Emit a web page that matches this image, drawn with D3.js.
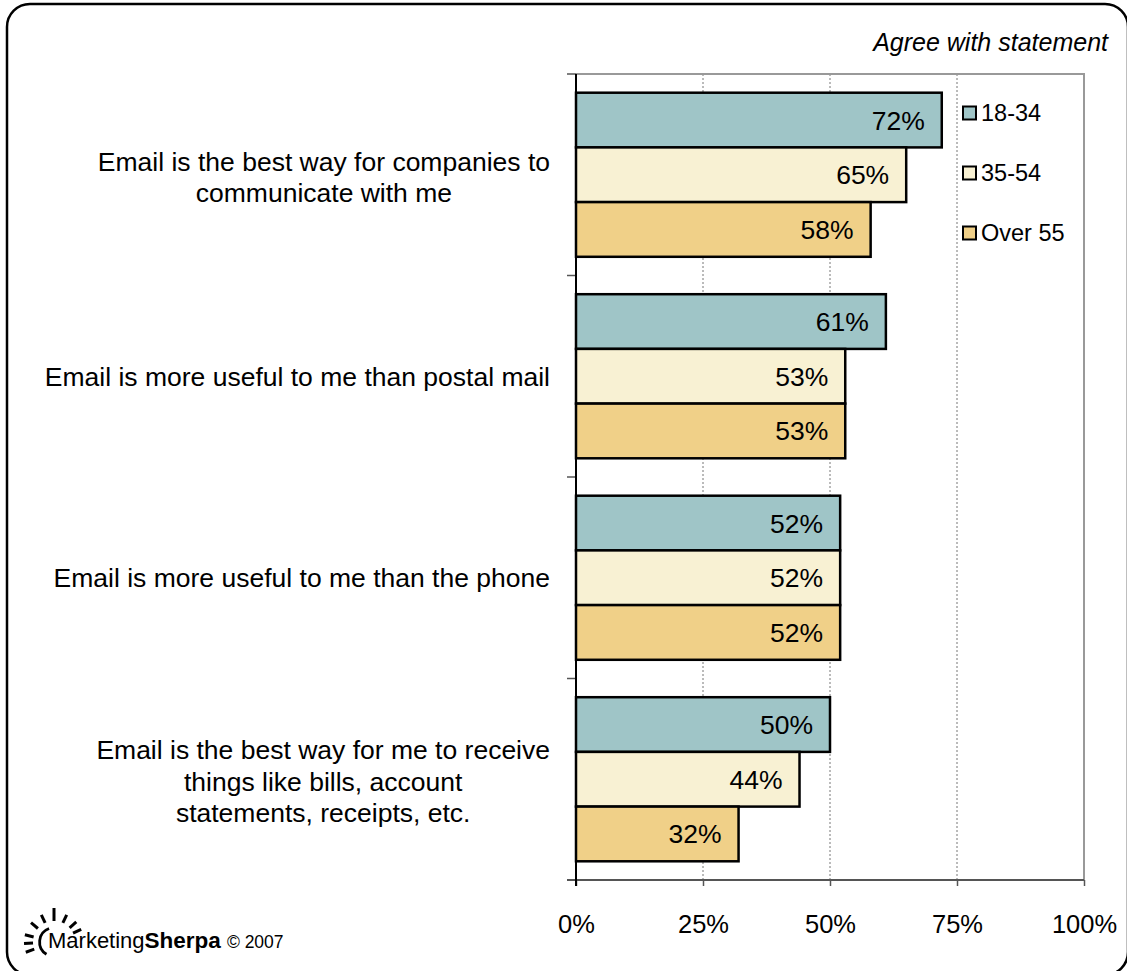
<!DOCTYPE html>
<html>
<head>
<meta charset="utf-8">
<script src="https://cdn.jsdelivr.net/npm/d3@7"></script>
<style>
  html, body { margin: 0; padding: 0; background: #fff; }
  svg { display: block; }
  text { font-family: "Liberation Sans", Arial, sans-serif; fill: #000; }
</style>
</head>
<body>
<svg id="chart" width="1127" height="971"></svg>
<script>
// Survey statements (one per group of bars)
const categories = [
  ["Email is the best way for companies to", "communicate with me"],
  ["Email is more useful to me than postal mail"],
  ["Email is more useful to me than the phone"],
  ["Email is the best way for me to receive", "things like bills, account", "statements, receipts, etc."]
];
// Age groups
const series = ["18-34", "35-54", "Over 55"];
const seriesColors = ["#9fc5c7", "#f8f1d3", "#f0d088"];
// Percent agreeing, per statement, per age group
const values18to34 = [72, 61, 52, 50];
const values35to54 = [65, 53, 52, 44];
const valuesOver55 = [58, 53, 52, 32];
const tickValues = [0, 25, 50, 75, 100];
const tickLabels = ["0%", "25%", "50%", "75%", "100%"];

const seriesValues = [values18to34, values35to54, valuesOver55];
const rows = categories.map((c, i) => ({
  key: i,
  lines: c,
  vals: series.map((s, j) => ({ series: s, idx: j, value: seriesValues[j][i] }))
}));

const svg = d3.select("#chart");
const plot = { left: 576, right: 1084, top: 74, bottom: 880 };

// outer rounded frame
svg.append("rect")
  .attr("x", 7).attr("y", 4).attr("width", 1121).attr("height", 971)
  .attr("rx", 23).attr("ry", 23)
  .attr("fill", "#fff").attr("stroke", "#000").attr("stroke-width", 2.5);

const x = d3.scaleLinear().domain([0, 100]).range([plot.left, plot.right]);
const y0 = d3.scaleBand().domain(rows.map(r => r.key)).range([plot.top, plot.bottom]);
const y1 = d3.scaleBand().domain(d3.range(series.length))
  .range([0, y0.bandwidth()]).paddingInner(0).paddingOuter(0.342);

// gridlines
svg.append("g").selectAll("line")
  .data(tickValues.filter(v => v > 0 && v < 100))
  .join("line")
  .attr("x1", d => x(d)).attr("x2", d => x(d))
  .attr("y1", plot.top).attr("y2", plot.bottom)
  .attr("stroke", "#777").attr("stroke-width", 1).attr("stroke-dasharray", "2,2");

// top and right frame of the plot area
svg.append("path")
  .attr("d", `M${plot.left},${plot.top}H${plot.right}V${plot.bottom}`)
  .attr("fill", "none").attr("stroke", "#999").attr("stroke-width", 2);

// bars
const groups = svg.append("g").selectAll("g")
  .data(rows).join("g")
  .attr("transform", d => `translate(0,${y0(d.key)})`);

groups.selectAll("rect")
  .data(d => d.vals).join("rect")
  .attr("x", x(0))
  .attr("y", d => y1(d.idx))
  .attr("width", d => x(d.value) - x(0))
  .attr("height", y1.bandwidth())
  .attr("fill", d => seriesColors[d.idx])
  .attr("stroke", "#000").attr("stroke-width", 2.5);

groups.selectAll("text.val")
  .data(d => d.vals).join("text")
  .attr("class", "val")
  .attr("x", d => x(d.value) - 17)
  .attr("y", d => y1(d.idx) + y1.bandwidth() / 2)
  .attr("dy", "0.36em")
  .attr("text-anchor", "end")
  .style("font-size", "26.5px")
  .text(d => d.value + "%");

// x axis
const xAxis = d3.axisBottom(x).tickValues(tickValues)
  .tickFormat((d, i) => tickLabels[i]).tickSize(6).tickPadding(29);
const gx = svg.append("g").attr("transform", `translate(0,${plot.bottom})`).call(xAxis);
gx.select(".domain").remove();
gx.selectAll(".tick line").attr("stroke", "#555").attr("stroke-width", 1.5);
gx.selectAll(".tick text")
  .style("font-family", '"Liberation Sans", Arial, sans-serif')
  .style("font-size", "25.5px").attr("fill", "#000");
svg.append("line")
  .attr("x1", plot.left - 9).attr("x2", plot.right)
  .attr("y1", plot.bottom).attr("y2", plot.bottom)
  .attr("stroke", "#555").attr("stroke-width", 2);

// y axis: category separators and labels
const ySeps = d3.range(rows.length + 1).map(i => plot.top + i * y0.step());
svg.append("g").selectAll("line")
  .data(ySeps).join("line")
  .attr("x1", plot.left - 9).attr("x2", plot.left)
  .attr("y1", d => d).attr("y2", d => d)
  .attr("stroke", "#555").attr("stroke-width", 1.5);
svg.append("line")
  .attr("x1", plot.left).attr("x2", plot.left)
  .attr("y1", plot.top).attr("y2", plot.bottom + 6)
  .attr("stroke", "#000").attr("stroke-width", 2);

const lineH = 31.5;
const labelRight = 550;
rows.forEach(r => {
  const cy = y0(r.key) + y0.bandwidth() / 2 + (r.lines.length > 1 ? 2 : 0);
  const g = svg.append("g");
  const texts = r.lines.map((ln, i) => g.append("text")
    .style("font-size", "26.5px")
    .attr("text-anchor", "middle")
    .attr("y", cy + (i - (r.lines.length - 1) / 2) * lineH)
    .attr("dy", "0.36em")
    .text(ln));
  const w = d3.max(texts, t => t.node().getComputedTextLength());
  texts.forEach(t => t.attr("x", labelRight - w / 2));
});

// legend
const legend = svg.append("g").selectAll("g")
  .data(series).join("g")
  .attr("transform", (d, i) => `translate(963,${113 + i * 60})`);
legend.append("rect")
  .attr("x", 0).attr("y", -6.5).attr("width", 13).attr("height", 13)
  .attr("fill", (d, i) => seriesColors[i])
  .attr("stroke", "#000").attr("stroke-width", 2);
legend.append("text")
  .attr("x", 18).attr("y", 0).attr("dy", "0.36em")
  .style("font-size", "23.5px")
  .text(d => d);

// subtitle
svg.append("text")
  .attr("x", 1108).attr("y", 51)
  .attr("text-anchor", "end")
  .style("font-size", "25px").style("font-style", "italic")
  .text("Agree with statement");

// MarketingSherpa logo
const logo = svg.append("g").attr("transform", "translate(54,942)");
const rayAngles = [200, 183, 166, 140, 115, 90, 65, 42, 25];
logo.selectAll("line")
  .data(rayAngles).join("line")
  .attr("x1", a => 21 * Math.cos(a * Math.PI / 180))
  .attr("y1", a => -21 * Math.sin(a * Math.PI / 180))
  .attr("x2", a => (a === 90 ? 34 : 30) * Math.cos(a * Math.PI / 180))
  .attr("y2", a => -(a === 90 ? 34 : 30) * Math.sin(a * Math.PI / 180))
  .attr("stroke", "#000").attr("stroke-width", 3).attr("stroke-linecap", "butt");
logo.append("path")
  .attr("d", d3.arc().innerRadius(13).outerRadius(15.8).startAngle(-Math.PI + 0.55).endAngle(-0.35)())
  .attr("fill", "#000");
const logoText = svg.append("text").attr("x", 48).attr("y", 948);
logoText.append("tspan").style("font-size", "22px").text("Marketing");
logoText.append("tspan").style("font-size", "22.5px").style("font-weight", "bold").text("Sherpa");
logoText.append("tspan").style("font-size", "17.5px").attr("dx", 6).text("© 2007");
</script>
</body>
</html>
